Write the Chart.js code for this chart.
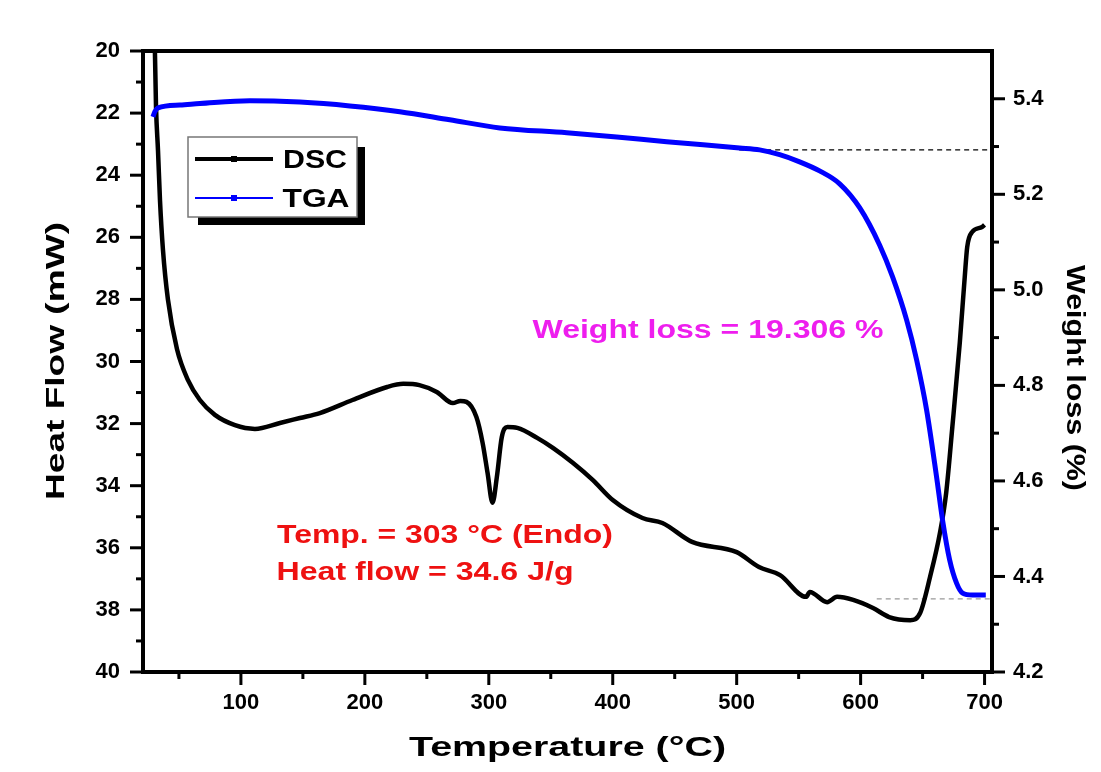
<!DOCTYPE html>
<html>
<head>
<meta charset="utf-8">
<script src="https://cdn.jsdelivr.net/npm/chart.js@4.4.0/dist/chart.umd.min.js"></script>
<style>
  html, body { margin: 0; padding: 0; background: #fff; }
</style>
</head>
<body>
<canvas id="thermoChart" width="1101" height="772"></canvas>
<script>
// DSC curve: temperature (°C) vs heat flow (mW)
const dscTemp = [30, 30.6, 31.5, 33.1, 34.7, 37.1, 41.1, 48.4, 57.3, 66.9, 79, 95.2, 111.3, 131.5, 147.6, 163.7, 190, 218, 231, 244, 258, 271, 277, 282, 290, 295, 299, 303, 306.5, 310.5, 315, 323, 339, 352, 368, 384, 400, 424, 440, 464, 500, 518, 535, 556, 559, 573, 581, 594, 610, 623, 640, 648, 656, 664, 669, 674, 680, 684, 686, 690, 698, 700];
const dscFlow = [18, 20.0, 21.8, 23.2, 24.8, 26.4, 28.0, 29.6, 30.6, 31.24, 31.72, 32.05, 32.17, 31.98, 31.82, 31.66, 31.24, 30.82, 30.72, 30.76, 30.98, 31.34, 31.27, 31.3, 31.79, 32.62, 33.59, 34.55, 33.72, 32.43, 32.11, 32.14, 32.46, 32.79, 33.27, 33.82, 34.46, 35.04, 35.2, 35.81, 36.14, 36.62, 36.88, 37.58, 37.42, 37.75, 37.58, 37.68, 37.94, 38.23, 38.33, 38.1, 36.94, 35.52, 34.24, 32.11, 29.4, 27.28, 26.31, 25.83, 25.67, 25.6];

// TGA curve: temperature (°C) vs weight (%)
const tgaTemp = [29, 30.6, 33.1, 50.8, 66.9, 107.3, 147.6, 187.9, 228.2, 268.5, 308.9, 362.9, 403.2, 443.5, 502.4, 518.5, 534.7, 550.8, 566.9, 583.1, 599.2, 615.3, 625.8, 637.1, 645.2, 653.2, 661.3, 666.1, 671.8, 677.4, 682.3, 690.3, 698.4, 701];
const tgaWeight = [5.362, 5.373, 5.381, 5.387, 5.39, 5.396, 5.393, 5.385, 5.373, 5.356, 5.339, 5.329, 5.32, 5.31, 5.297, 5.293, 5.283, 5.268, 5.249, 5.222, 5.172, 5.094, 5.027, 4.937, 4.853, 4.749, 4.608, 4.518, 4.435, 4.386, 4.365, 4.361, 4.361, 4.361];

// weight-loss step levels (dashed guides), from onset temperature to the right axis
const stepStart = [502, 613];
const stepEnd = [706, 706];
const stepLevel = [5.293, 4.353];

// axis ticks
const tempMajor = [100, 200, 300, 400, 500, 600, 700];
const tempMinor = [50, 150, 250, 350, 450, 550, 650];
const flowMajor = [20, 22, 24, 26, 28, 30, 32, 34, 36, 38, 40];
const flowMinor = [21, 23, 25, 27, 29, 31, 33, 35, 37, 39];
const weightMajor = [4.2, 4.4, 4.6, 4.8, 5.0, 5.2, 5.4];
const weightMinor = [4.3, 4.5, 4.7, 4.9, 5.1, 5.3];

const seriesNames = ['DSC', 'TGA'];
const FONT = 'Arial, "Liberation Sans", sans-serif';

function setTicks(major, minor) {
    return function (scale) {
        scale.ticks = major.concat(minor).sort((a, b) => a - b).map(v => ({ value: v }));
    };
}

// draw text squeezed/stretched to a given width (the original figure is stretched sideways)
function fitText(ctx, text, x, y, width, size, color, rotation) {
    ctx.save();
    ctx.font = 'bold ' + size + 'px ' + FONT;
    ctx.fillStyle = color;
    ctx.textAlign = 'center';
    ctx.textBaseline = 'alphabetic';
    const w = ctx.measureText(text).width;
    ctx.translate(x, y);
    if (rotation) ctx.rotate(rotation);
    ctx.scale(width / w, 1);
    ctx.fillText(text, 0, 0);
    ctx.restore();
}

const frameAndTicks = {
    id: 'frameAndTicks',
    afterDraw(chart) {
        const { ctx, chartArea: a, scales } = chart;
        ctx.save();
        ctx.strokeStyle = '#000';
        ctx.lineWidth = 3;
        ctx.lineCap = 'butt';
        scales.x.ticks.forEach(t => {
            const px = scales.x.getPixelForValue(t.value);
            const len = t.label ? 13 : 7;
            ctx.beginPath(); ctx.moveTo(px, a.bottom); ctx.lineTo(px, a.bottom + len); ctx.stroke();
        });
        scales.y.ticks.forEach(t => {
            const py = scales.y.getPixelForValue(t.value);
            const len = t.label ? 13 : 7;
            ctx.beginPath(); ctx.moveTo(a.left, py); ctx.lineTo(a.left - len, py); ctx.stroke();
        });
        scales.y1.ticks.forEach(t => {
            const py = scales.y1.getPixelForValue(t.value);
            const len = t.label ? 13 : 7;
            ctx.beginPath(); ctx.moveTo(a.right, py); ctx.lineTo(a.right + len, py); ctx.stroke();
        });
        ctx.lineWidth = 4;
        ctx.strokeRect(a.left, a.top, a.right - a.left, a.bottom - a.top);
        ctx.restore();

        // axis titles
        fitText(ctx, 'Temperature (°C)', (a.left + a.right) / 2, 756, 317, 28, '#000');
        fitText(ctx, 'Heat Flow (mW)', 64, 361, 278, 26, '#000', -Math.PI / 2);
        fitText(ctx, 'Weight loss (%)', 1067, 378, 226, 26, '#000', Math.PI / 2);

        // annotations
        fitText(ctx, 'Weight loss = 19.306 %', 708, 338, 351, 25, '#ee1eee');
        fitText(ctx, 'Temp. = 303 °C (Endo)', 445, 543, 336, 25, '#ee1111');
        fitText(ctx, 'Heat flow = 34.6 J/g', 425, 580, 297, 25, '#ee1111');

        // legend box with drop shadow
        ctx.save();
        ctx.fillStyle = '#000';
        ctx.fillRect(198, 147, 167, 78);
        ctx.fillStyle = '#fff';
        ctx.fillRect(188, 137, 169, 80);
        ctx.strokeStyle = '#777';
        ctx.lineWidth = 1.5;
        ctx.strokeRect(188, 137, 169, 80);
        const ds = chart.data.datasets;
        [[ds[1], 159, 4], [ds[0], 198, 2]].forEach(([d, y, w]) => {
            ctx.strokeStyle = d.borderColor;
            ctx.lineWidth = w;
            ctx.beginPath(); ctx.moveTo(195, y); ctx.lineTo(273, y); ctx.stroke();
            ctx.fillStyle = d.borderColor;
            ctx.fillRect(231, y - 3, 6, 6);
        });
        ctx.restore();
        fitText(ctx, seriesNames[0], 315, 168, 64, 25, '#000');
        fitText(ctx, seriesNames[1], 316, 207, 67, 25, '#000');
    }
};

const guideSets = stepLevel.map((lvl, i) => ({
    data: [{ x: stepStart[i], y: lvl }, { x: stepEnd[i], y: lvl }],
    yAxisID: 'y1',
    borderColor: i === 0 ? '#000' : '#999',
    borderWidth: 1.2,
    borderDash: [5, 4],
    pointRadius: 0,
    order: 2
}));

new Chart(document.getElementById('thermoChart'), {
    type: 'line',
    data: {
        datasets: [
            {
                label: seriesNames[1],
                data: tgaTemp.map((t, i) => ({ x: t, y: tgaWeight[i] })),
                yAxisID: 'y1',
                borderColor: '#0000ff',
                borderWidth: 5,
                pointRadius: 0,
                cubicInterpolationMode: 'monotone',
                clip: 0,
                order: 0
            },
            {
                label: seriesNames[0],
                data: dscTemp.map((t, i) => ({ x: t, y: dscFlow[i] })),
                yAxisID: 'y',
                borderColor: '#000000',
                borderWidth: 4.5,
                pointRadius: 0,
                cubicInterpolationMode: 'monotone',
                clip: 0,
                order: 1
            }
        ].concat(guideSets)
    },
    options: {
        responsive: false,
        animation: false,
        layout: { padding: { top: 51, left: 0, right: 0, bottom: 0 } },
        plugins: { legend: { display: false }, tooltip: { enabled: false } },
        scales: {
            x: {
                type: 'linear', position: 'bottom', min: 21, max: 706,
                afterBuildTicks: setTicks(tempMajor, tempMinor),
                afterFit: s => { s.height = 100; },
                grid: { display: false, drawTicks: false },
                border: { display: false },
                ticks: {
                    autoSkip: false, maxRotation: 0, padding: 18, color: '#000',
                    font: { family: FONT, size: 22, weight: 'bold' },
                    callback: v => tempMajor.includes(v) ? String(v) : ''
                }
            },
            y: {
                type: 'linear', position: 'left', min: 20, max: 40, reverse: true,
                afterBuildTicks: setTicks(flowMajor, flowMinor),
                afterFit: s => { s.width = 143; },
                grid: { display: false, drawTicks: false },
                border: { display: false },
                ticks: {
                    autoSkip: false, padding: 23, color: '#000',
                    font: { family: FONT, size: 22, weight: 'bold' },
                    callback: v => flowMajor.includes(v) ? String(v) : ''
                }
            },
            y1: {
                type: 'linear', position: 'right', min: 4.2, max: 5.5,
                afterBuildTicks: setTicks(weightMajor, weightMinor),
                afterFit: s => { s.width = 109; },
                grid: { display: false, drawTicks: false },
                border: { display: false },
                ticks: {
                    autoSkip: false, padding: 21, color: '#000',
                    font: { family: FONT, size: 22, weight: 'bold' },
                    callback: v => weightMajor.includes(v) ? v.toFixed(1) : ''
                }
            }
        }
    },
    plugins: [frameAndTicks]
});
</script>
</body>
</html>
